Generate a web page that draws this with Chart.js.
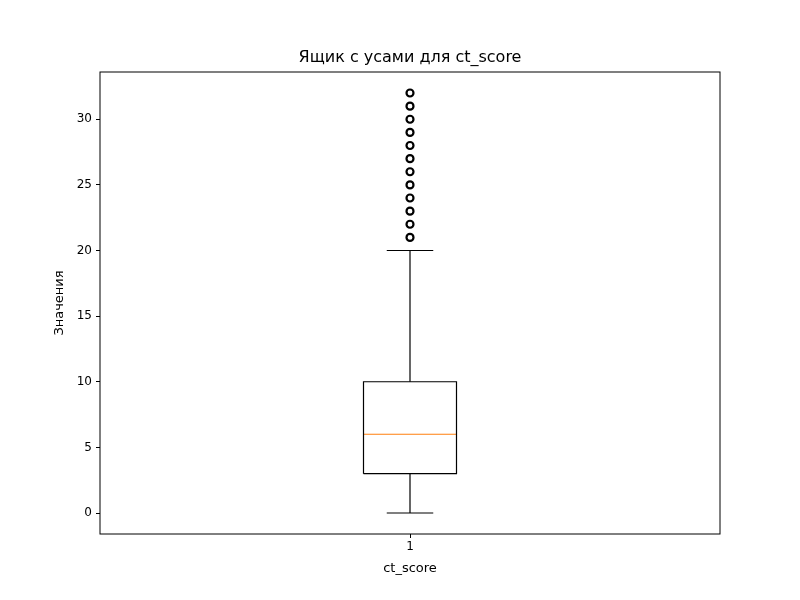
<!DOCTYPE html>
<html><head><meta charset="utf-8">
<script src="https://cdn.jsdelivr.net/npm/chart.js@4"></script>
<style>html,body{margin:0;padding:0;background:#fff}</style>
</head><body>
<div style="width:800px;height:600px"><canvas id="c" width="800" height="600"></canvas></div>
<script>
const category = "1";
const seriesName = "ct_score";
const whiskerLow = 0, q1 = 3, median = 6, q3 = 10, whiskerHigh = 20;
const outliers = [21,22,23,24,25,26,27,28,29,30,31,32];
const yTicks = [0,5,10,15,20,25,30];

const pos = 1, hw = 0.075, cw = 0.0375;
const black = '#000';
const line = (pts, color) => ({data: pts, showLine: true, borderColor: color || black, borderWidth: 1.2, pointRadius: 0, fill: false});
const datasets = [
  line([{x:pos-hw,y:q1},{x:pos+hw,y:q1},{x:pos+hw,y:q3},{x:pos-hw,y:q3},{x:pos-hw,y:q1}]),
  line([{x:pos-hw,y:median},{x:pos+hw,y:median}], '#ff7f0e'),
  line([{x:pos,y:q1},{x:pos,y:whiskerLow}]),
  line([{x:pos,y:q3},{x:pos,y:whiskerHigh}]),
  line([{x:pos-cw,y:whiskerLow},{x:pos+cw,y:whiskerLow}]),
  line([{x:pos-cw,y:whiskerHigh},{x:pos+cw,y:whiskerHigh}]),
  {data: outliers.map(v=>({x:pos,y:v})), showLine:false, pointRadius:3.5, pointBorderColor:black, pointBackgroundColor:'rgba(0,0,0,0)', pointBorderWidth:2.2}
];
const frame = {id:'frame', afterDraw(ch){const a=ch.chartArea,c=ch.ctx;c.save();c.strokeStyle='#000';c.lineWidth=1;c.strokeRect(a.left,a.top,a.right-a.left,a.bottom-a.top);
 c.fillStyle='#000';c.textAlign='center';c.textBaseline='middle';
 c.font='16px "DejaVu Sans"';c.fillText('Ящик с усами для ct_score',(a.left+a.right)/2,58);
 c.font='13px "DejaVu Sans"';c.fillText(seriesName,(a.left+a.right)/2,569);
 c.translate(60,(a.top+a.bottom)/2);c.rotate(-Math.PI/2);c.fillText('Значения',0,0);
 c.restore();}};
new Chart(document.getElementById('c'), {
  type:'scatter', data:{datasets},
  options:{responsive:false, animation:false, layout:{padding:{top:72,right:80,left:0,bottom:0}},
    plugins:{legend:{display:false},tooltip:{enabled:false}},
    scales:{
      x:{type:'linear',min:0.5,max:1.5,afterFit:s=>{s.height=66},afterBuildTicks:s=>{s.ticks=[{value:pos}]},
        ticks:{callback:()=>category,color:'#000',font:{family:'DejaVu Sans',size:12},padding:2},
        grid:{drawOnChartArea:false,tickLength:4,color:'#000'},border:{display:false}},
      y:{type:'linear',min:-1.6,max:33.6,afterFit:s=>{s.width=100},afterBuildTicks:s=>{s.ticks=yTicks.map(v=>({value:v}))},
        ticks:{color:'#000',font:{family:'DejaVu Sans',size:12},padding:4},
        grid:{drawOnChartArea:false,tickLength:4,color:'#000'},border:{display:false}}
    }},
  plugins:[frame]
});
</script></body></html>
